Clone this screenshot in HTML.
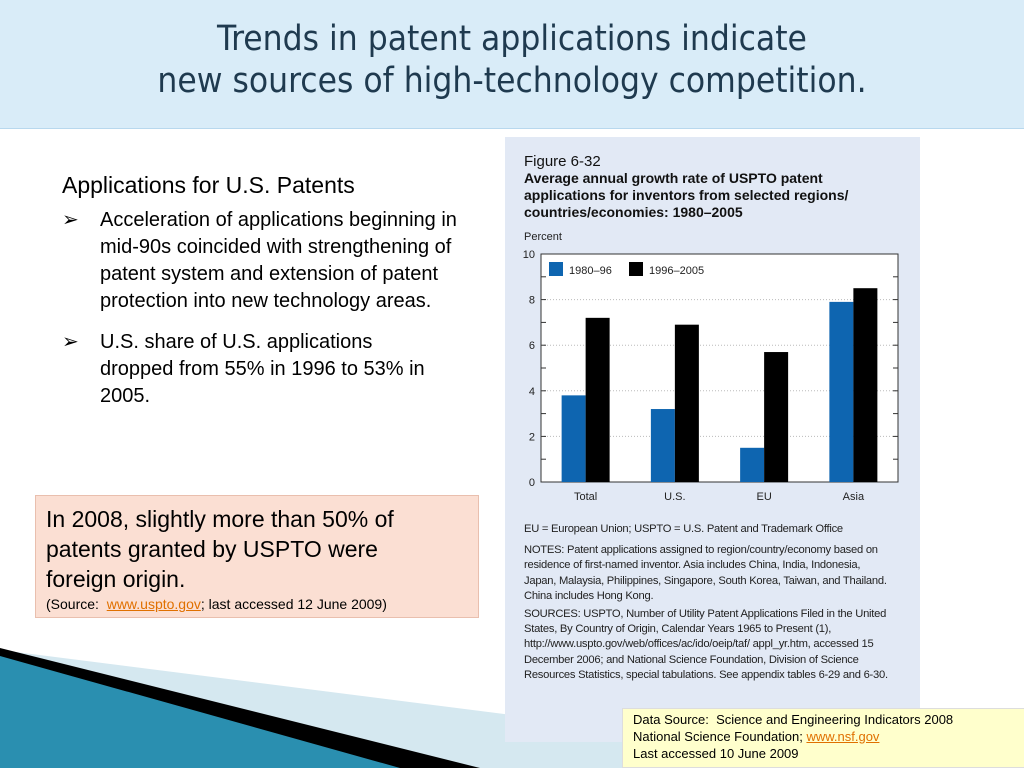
<!DOCTYPE html>
<html><head><meta charset="utf-8"><style>
body{margin:0;width:1024px;height:768px;position:relative;overflow:hidden;background:#fff;font-family:"Liberation Sans",sans-serif}
.abs{position:absolute}
</style></head><body>
<div class="abs" style="left:0;top:0;width:1024px;height:128px;background:#d9ecf8;border-bottom:1px solid #b8d8ee"></div>
<div class="abs" style="left:0;top:18px;width:1024px;text-align:center;font-family:'DejaVu Sans Condensed','DejaVu Sans',sans-serif;font-size:35px;line-height:42px;color:#1f3a4f">Trends in patent applications indicate<br>new sources of high-technology competition.</div>
<div class="abs" style="left:62px;top:172px;width:400px;font-size:20px;line-height:27px;color:#000">
<div style="font-size:23px;margin-bottom:8px">Applications for U.S. Patents</div>
<div style="position:relative;padding-left:38px;margin-bottom:14px"><span style="position:absolute;left:0">➢</span>Acceleration of applications beginning in mid-90s coincided with strengthening of patent system and extension of patent protection into new technology areas.</div>
<div style="position:relative;padding-left:38px;padding-right:20px"><span style="position:absolute;left:0">➢</span>U.S. share of U.S. applications dropped from 55% in 1996 to 53% in 2005.</div>
</div>
<div class="abs" style="left:35px;top:495px;width:432px;height:113px;padding:8px 0 0 10px;background:#fbdfd3;border:1px solid #e9bfae;font-size:23px;line-height:30px"><div style="width:400px">In 2008, slightly more than 50% of patents granted by USPTO were foreign origin.</div><div style="font-size:14px;line-height:20px">(Source:&nbsp; <span style="color:#e07000;text-decoration:underline">www.uspto.gov</span>; last accessed 12 June 2009)</div></div>
<svg class="abs" style="left:0;top:640px" width="1024" height="128">
<polygon points="0,10 1024,140 0,128" fill="#d5e8f0"/>
<polygon points="0,8 480,128 0,128" fill="#000"/>
<polygon points="0,16 400,128 0,128" fill="#2a8fb0"/>
</svg>
<div class="abs" style="left:505px;top:137px;width:415px;height:605px;background:#e2e9f5"></div>
<div class="abs" style="left:524px;top:153px;font-size:14px;line-height:17px;color:#111;width:365px"><div style="font-size:15px">Figure 6-32</div><b>Average annual growth rate of USPTO patent applications for inventors from selected regions/ countries/economies: 1980–2005</b></div>
<div class="abs" style="left:524px;top:231px;font-size:11px;color:#222">Percent</div>
<svg class="abs" id="chart" style="left:505px;top:240px" width="415" height="270"></svg>
<div class="abs" style="left:524px;top:522px;width:370px;font-size:11.2px;line-height:15.2px;color:#222;letter-spacing:-0.25px">
<div style="margin-bottom:6px">EU = European Union; USPTO = U.S. Patent and Trademark Office</div>
<div style="margin-bottom:3px">NOTES: Patent applications assigned to region/country/economy based on residence of first-named inventor. Asia includes China, India, Indonesia, Japan, Malaysia, Philippines, Singapore, South Korea, Taiwan, and Thailand. China includes Hong Kong.</div>
<div>SOURCES: USPTO, Number of Utility Patent Applications Filed in the United States, By Country of Origin, Calendar Years 1965 to Present (1), http://www.uspto.gov/web/offices/ac/ido/oeip/taf/ appl_yr.htm, accessed 15 December 2006; and National Science Foundation, Division of Science Resources Statistics, special tabulations. See appendix tables 6-29 and 6-30.</div></div>
<div class="abs" style="left:622px;top:708px;width:396px;height:56px;padding:2px 0 0 10px;background:#ffffcc;border:1px solid #ddd;font-size:13px;line-height:17px">Data Source:&nbsp; Science and Engineering Indicators 2008<br>National Science Foundation; <span style="color:#e07000;text-decoration:underline">www.nsf.gov</span><br>Last accessed 10 June 2009</div>
<script>
const categories=["Total","U.S.","EU","Asia"];
const series1980=[3.8,3.2,1.5,7.9];
const series1996=[7.2,6.9,5.7,8.5];
const yTicks=[0,2,4,6,8,10];
const svg=document.getElementById('chart');
const NS='http://www.w3.org/2000/svg';
const x0=36,x1=393,yTop=14,yBot=242;
const y=v=>yBot-(v/10)*(yBot-yTop);
const gx=i=>x0+(x1-x0)*(i+0.5)/categories.length;
function mk(t,a){const e=document.createElementNS(NS,t);for(const k in a)e.setAttribute(k,a[k]);svg.appendChild(e);return e;}
let r=mk('rect',{x:x0,y:yTop,width:x1-x0,height:yBot-yTop,fill:'#fff',stroke:'#333','stroke-width':1});

for(let v=1;v<10;v++){
 const yy=y(v);
 if(v%2==0){let g=mk('line',{x1:x0,x2:x1,y1:yy,y2:yy,stroke:'#bbb','stroke-dasharray':'1,2'});}
 let t1=mk('line',{x1:x0,x2:x0+5,y1:yy,y2:yy,stroke:'#333'});
 let t2=mk('line',{x1:x1-5,x2:x1,y1:yy,y2:yy,stroke:'#333'});
}
yTicks.forEach(v=>{let t=mk('text',{x:x0-6,y:y(v)+4,'text-anchor':'end','font-size':11,fill:'#222'});t.textContent=v;
});
const bw=24;
categories.forEach((c,i)=>{
 const cx=gx(i);
 let b1=mk('rect',{x:cx-bw,y:y(series1980[i]),width:bw,height:yBot-y(series1980[i]),fill:'#0e65b0'});
 
 let b2=mk('rect',{x:cx,y:y(series1996[i]),width:bw,height:yBot-y(series1996[i]),fill:'#000'});
 
 let t=mk('text',{x:cx,y:yBot+18,'text-anchor':'middle','font-size':11,fill:'#222'});t.textContent=c;
 
});
let l1=mk('rect',{x:44,y:22,width:14,height:14,fill:'#0e65b0'});
let lt1=mk('text',{x:64,y:34,'font-size':11,fill:'#222'});lt1.textContent='1980–96';
let l2=mk('rect',{x:124,y:22,width:14,height:14,fill:'#000'});
let lt2=mk('text',{x:144,y:34,'font-size':11,fill:'#222'});lt2.textContent='1996–2005';
</script>
</body></html>
